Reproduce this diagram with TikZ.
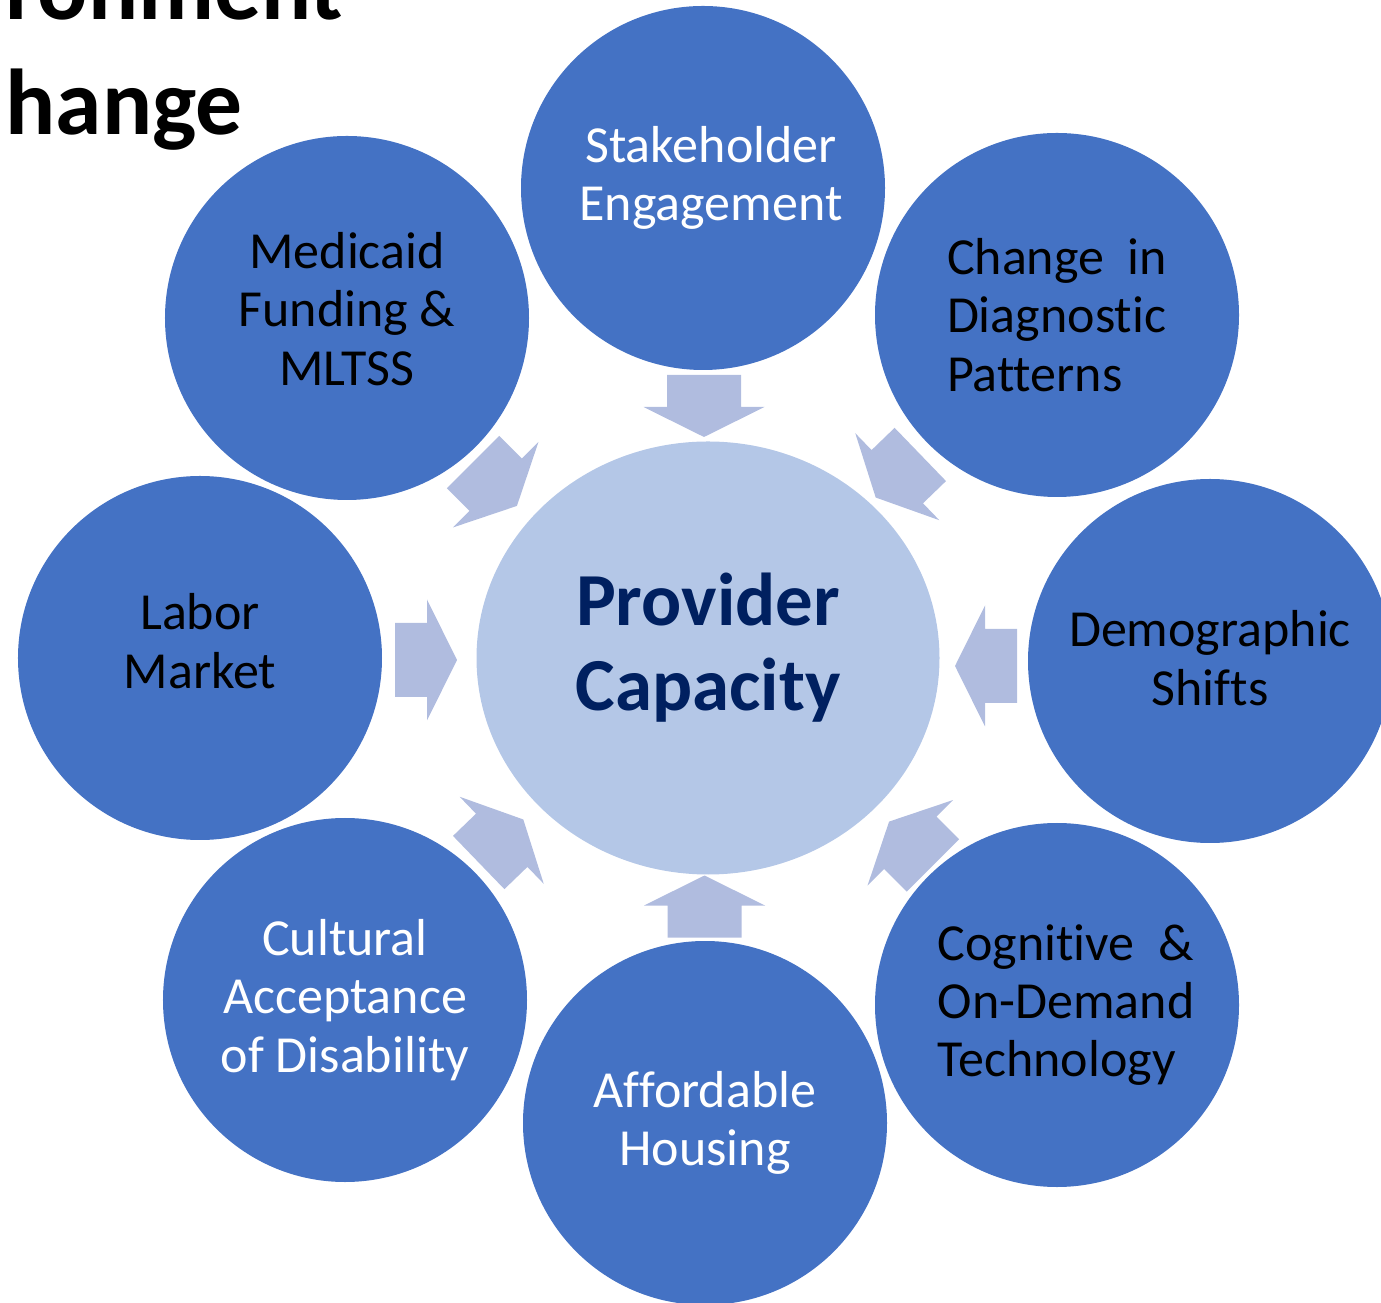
\documentclass[tikz,border=0pt]{standalone}
\usepackage{fontspec}
\setmainfont{Carlito}[Ligatures=NoCommon]
\usetikzlibrary{shapes.geometric}
\definecolor{outerblue}{HTML}{4472C4}
\definecolor{innerblue}{HTML}{B4C7E7}
\definecolor{flowblue}{HTML}{B0BCDF}
\definecolor{capnavy}{HTML}{002060}

\begin{document}
\begin{tikzpicture}[
  factor/.style={circle, fill=outerblue, minimum size=3.64cm, inner sep=0pt},
  factortext/.style={inner sep=0pt, align=center, font=\fontsize{14.8}{16.6}\selectfont},
  core/.style={ellipse, fill=innerblue, minimum width=4.63cm, minimum height=4.33cm, inner sep=0pt},
  coretext/.style={inner sep=0pt, align=center, text=capnavy, font=\fontsize{21.3}{24.2}\selectfont\bfseries},
  flow/.style={fill=flowblue},
  heading/.style={inner sep=0pt, anchor=base west, font=\fontsize{26.6}{32}\selectfont\bfseries}
]
\useasboundingbox (-7.08,-6.45) rectangle (6.73,6.58);
%title lines running off the page
\node[heading] (title1) at (-7.03,6.38) {ronment};
\node[heading] (title2) at (-7.03,5.23) {hange};
%centre
\node[core] (prov) at (0,0) {};
\node[coretext] (prov-t) at ([yshift=0.1cm]prov) {Provider\\Capacity};
%factors round the centre
\node[factor] (stake) at (-0.05,4.70) {};
\node[factor] (diag) at (3.49,3.43) {};
\node[factor] (demo) at (5.02,-0.03) {};
\node[factor] (tech) at (3.49,-3.47) {};
\node[factor] (house) at (-0.03,-4.65) {};
\node[factor] (culture) at (-3.63,-3.42) {};
\node[factor] (labor) at (-5.08,0) {};
\node[factor] (medicaid) at (-3.61,3.40) {};
%their labels
\node[factortext, text=white] (stake-t) at ([shift={(0.08,0.1)}]stake) {Stakeholder\\Engagement};
\node[factortext, align=left] (diag-t) at (diag) {Change\ \ in\\Diagnostic\\Patterns};
\node[factortext] (demo-t) at ([yshift=0.03cm]demo) {Demographic\\Shifts};
\node[factortext, align=left] (tech-t) at ([xshift=0.09cm]tech) {Cognitive\ \ \&\\On-Demand\\Technology};
\node[factortext, text=white] (house-t) at (house) {Affordable\\Housing};
\node[factortext, text=white] (culture-t) at (culture) {Cultural\\Acceptance\\of Disability};
\node[factortext] (labor-t) at ([yshift=0.17cm]labor) {Labor\\Market};
\node[factortext] (medicaid-t) at ([yshift=0.09cm]medicaid) {Medicaid\\Funding \&\\MLTSS};
%block arrows pointing in: centre x, centre y, direction
\foreach \x/\y/\a in {-0.04/2.52/-90, 1.90/1.82/224, 2.78/-0.08/180, 2.03/-1.855/135,
                      -0.035/-2.485/90, -2.07/-1.83/44, -2.82/-0.02/0, -2.13/1.74/-45}
  \fill[flow, shift={(\x,\y)}, rotate=\a] (-0.31,-0.37) -- (0.01,-0.37) -- (0.01,-0.605)
    -- (0.31,0) -- (0.01,0.605) -- (0.01,0.37) -- (-0.31,0.37) -- cycle;
\end{tikzpicture}
\end{document}
